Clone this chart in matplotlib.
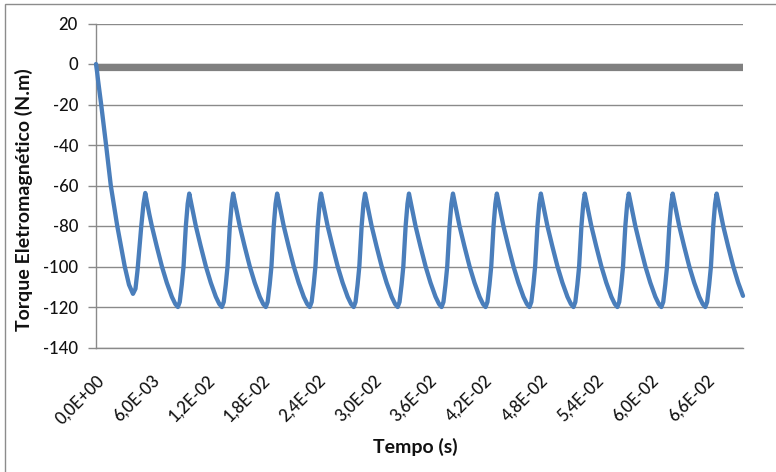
import matplotlib
matplotlib.use("Agg")
import matplotlib.pyplot as plt
from matplotlib.patches import Rectangle

plt.rcParams['font.family'] = ['Lato', 'DejaVu Sans']

# Electromagnetic torque samples (time in s, torque in N.m), one ripple cycle per row
tempo_s = [
    0.00000, 0.00012, 0.00022, 0.00056, 0.00109, 0.00160, 0.00230, 0.00311, 0.00357, 0.00400, 0.00427, 0.00449, 0.00471, 0.00490, 0.00514,
    0.00533, 0.00555, 0.00576, 0.00604, 0.00657, 0.00713, 0.00766, 0.00821, 0.00858, 0.00886, 0.00906, 0.00928, 0.00947, 0.00972, 0.00992,
    0.01009, 0.01031, 0.01052, 0.01080, 0.01133, 0.01189, 0.01242, 0.01297, 0.01334, 0.01362, 0.01382, 0.01404, 0.01423, 0.01448, 0.01468,
    0.01484, 0.01506, 0.01527, 0.01555, 0.01608, 0.01664, 0.01717, 0.01772, 0.01809, 0.01837, 0.01857, 0.01879, 0.01898, 0.01923, 0.01943,
    0.01960, 0.01982, 0.02003, 0.02031, 0.02084, 0.02140, 0.02193, 0.02248, 0.02285, 0.02313, 0.02333, 0.02355, 0.02374, 0.02399, 0.02419,
    0.02435, 0.02457, 0.02478, 0.02506, 0.02559, 0.02615, 0.02668, 0.02723, 0.02760, 0.02788, 0.02808, 0.02830, 0.02849, 0.02874, 0.02894,
    0.02911, 0.02933, 0.02954, 0.02982, 0.03035, 0.03091, 0.03144, 0.03199, 0.03236, 0.03264, 0.03284, 0.03306, 0.03325, 0.03350, 0.03370,
    0.03386, 0.03408, 0.03429, 0.03457, 0.03510, 0.03566, 0.03619, 0.03674, 0.03711, 0.03739, 0.03759, 0.03781, 0.03800, 0.03825, 0.03845,
    0.03862, 0.03884, 0.03905, 0.03933, 0.03986, 0.04042, 0.04095, 0.04150, 0.04187, 0.04215, 0.04235, 0.04257, 0.04276, 0.04301, 0.04321,
    0.04337, 0.04359, 0.04380, 0.04408, 0.04461, 0.04517, 0.04570, 0.04625, 0.04662, 0.04690, 0.04710, 0.04732, 0.04751, 0.04776, 0.04796,
    0.04813, 0.04835, 0.04856, 0.04884, 0.04937, 0.04993, 0.05046, 0.05101, 0.05138, 0.05166, 0.05186, 0.05208, 0.05227, 0.05252, 0.05272,
    0.05288, 0.05310, 0.05331, 0.05359, 0.05412, 0.05468, 0.05521, 0.05576, 0.05613, 0.05641, 0.05661, 0.05683, 0.05702, 0.05727, 0.05747,
    0.05764, 0.05786, 0.05807, 0.05835, 0.05888, 0.05944, 0.05997, 0.06052, 0.06089, 0.06117, 0.06137, 0.06159, 0.06178, 0.06203, 0.06223,
    0.06239, 0.06261, 0.06282, 0.06310, 0.06363, 0.06419, 0.06472, 0.06527, 0.06564, 0.06592, 0.06612, 0.06634, 0.06653, 0.06678, 0.06698,
    0.06715, 0.06737, 0.06758, 0.06786, 0.06839, 0.06895, 0.06948, 0.07000,
]
torque_nm = [
    0.0, -4.0, -8.0, -20.0, -40.0, -60.0, -80.0, -100.0, -109.0, -113.5, -111.0, -102.0, -90.0, -80.0, -69.0,
    -63.7, -69.0, -74.0, -80.0, -90.0, -100.0, -108.0, -115.0, -118.5, -120.0, -117.5, -109.0, -100.0, -80.0, -69.0,
    -64.0, -69.0, -74.0, -80.0, -90.0, -100.0, -108.0, -115.0, -118.5, -120.0, -117.5, -109.0, -100.0, -80.0, -69.0,
    -64.0, -69.0, -74.0, -80.0, -90.0, -100.0, -108.0, -115.0, -118.5, -120.0, -117.5, -109.0, -100.0, -80.0, -69.0,
    -64.0, -69.0, -74.0, -80.0, -90.0, -100.0, -108.0, -115.0, -118.5, -120.0, -117.5, -109.0, -100.0, -80.0, -69.0,
    -64.0, -69.0, -74.0, -80.0, -90.0, -100.0, -108.0, -115.0, -118.5, -120.0, -117.5, -109.0, -100.0, -80.0, -69.0,
    -64.0, -69.0, -74.0, -80.0, -90.0, -100.0, -108.0, -115.0, -118.5, -120.0, -117.5, -109.0, -100.0, -80.0, -69.0,
    -64.0, -69.0, -74.0, -80.0, -90.0, -100.0, -108.0, -115.0, -118.5, -120.0, -117.5, -109.0, -100.0, -80.0, -69.0,
    -64.0, -69.0, -74.0, -80.0, -90.0, -100.0, -108.0, -115.0, -118.5, -120.0, -117.5, -109.0, -100.0, -80.0, -69.0,
    -64.0, -69.0, -74.0, -80.0, -90.0, -100.0, -108.0, -115.0, -118.5, -120.0, -117.5, -109.0, -100.0, -80.0, -69.0,
    -64.0, -69.0, -74.0, -80.0, -90.0, -100.0, -108.0, -115.0, -118.5, -120.0, -117.5, -109.0, -100.0, -80.0, -69.0,
    -64.0, -69.0, -74.0, -80.0, -90.0, -100.0, -108.0, -115.0, -118.5, -120.0, -117.5, -109.0, -100.0, -80.0, -69.0,
    -64.0, -69.0, -74.0, -80.0, -90.0, -100.0, -108.0, -115.0, -118.5, -120.0, -117.5, -109.0, -100.0, -80.0, -69.0,
    -64.0, -69.0, -74.0, -80.0, -90.0, -100.0, -108.0, -115.0, -118.5, -120.0, -117.5, -109.0, -100.0, -80.0, -69.0,
    -64.0, -69.0, -74.0, -80.0, -90.0, -100.0, -108.0, -114.5,
]

# Load torque reference (constant)
carga_tempo_s = [0.0, 0.07]
carga_nm = [-1.4, -1.4]

x_ticks = [0.0, 0.006, 0.012, 0.018, 0.024, 0.030, 0.036, 0.042, 0.048, 0.054, 0.060, 0.066]
x_tick_labels = ["0,0E+00", "6,0E-03", "1,2E-02", "1,8E-02", "2,4E-02", "3,0E-02",
                 "3,6E-02", "4,2E-02", "4,8E-02", "5,4E-02", "6,0E-02", "6,6E-02"]
y_ticks = [-140, -120, -100, -80, -60, -40, -20, 0, 20]
y_tick_labels = ["-140", "-120", "-100", "-80", "-60", "-40", "-20", "0", "20"]

W, H = 776, 472
fig = plt.figure(figsize=(W / 100, H / 100), dpi=100)
fig.patch.set_facecolor("white")

# chart-area frame
fig.patches.append(Rectangle((5 / W, -0.02), 1.05, 1 - 3.5 / H + 0.02,
                             transform=fig.transFigure, fill=False,
                             edgecolor="#8c8c8c", linewidth=1.0))

left, right = 96 / W, 743 / W
bottom, top = 1 - 347.5 / H, 1 - 23.5 / H
ax = fig.add_axes([left, bottom, right - left, top - bottom])

grid_c = "#8a8a8a"
ax.set_xlim(0, 0.07)
ax.set_ylim(-140, 20)
ax.set_yticks(y_ticks)
ax.set_yticklabels(y_tick_labels, fontweight="medium")
ax.set_xticks(x_ticks)
ax.set_xticklabels(x_tick_labels, rotation=45, ha="right", va="top",
                   rotation_mode="anchor", fontweight="medium")

ax.yaxis.grid(True, color=grid_c, linewidth=1.0)
ax.set_axisbelow(True)
for s in ("top", "right"):
    ax.spines[s].set_visible(False)
for s in ("left", "bottom"):
    ax.spines[s].set_color(grid_c)
    ax.spines[s].set_linewidth(1.0)

ax.tick_params(axis="y", direction="out", length=6, width=1.0, color=grid_c,
               labelsize=12, labelcolor="#111111", pad=7)
ax.tick_params(axis="x", length=0, labelsize=12, labelcolor="#111111", pad=18)

ax.plot(carga_tempo_s, carga_nm, color="#808080", linewidth=5.2,
        solid_capstyle="butt", zorder=2)
ax.plot(tempo_s, torque_nm, color="#4A7EBB", linewidth=3.1,
        solid_joinstyle="round", solid_capstyle="round", zorder=3, clip_on=False)

fig.text(24 / W, 1 - 200 / H, "Torque Eletromagnético (N.m)", rotation=90,
         ha="center", va="center", fontsize=14, fontweight="bold", color="#111111")
fig.text(415 / W, 1 - 447 / H, "Tempo (s)", ha="center", va="center",
         fontsize=14, fontweight="bold", color="#111111")

fig.savefig("out.png", dpi=100)
